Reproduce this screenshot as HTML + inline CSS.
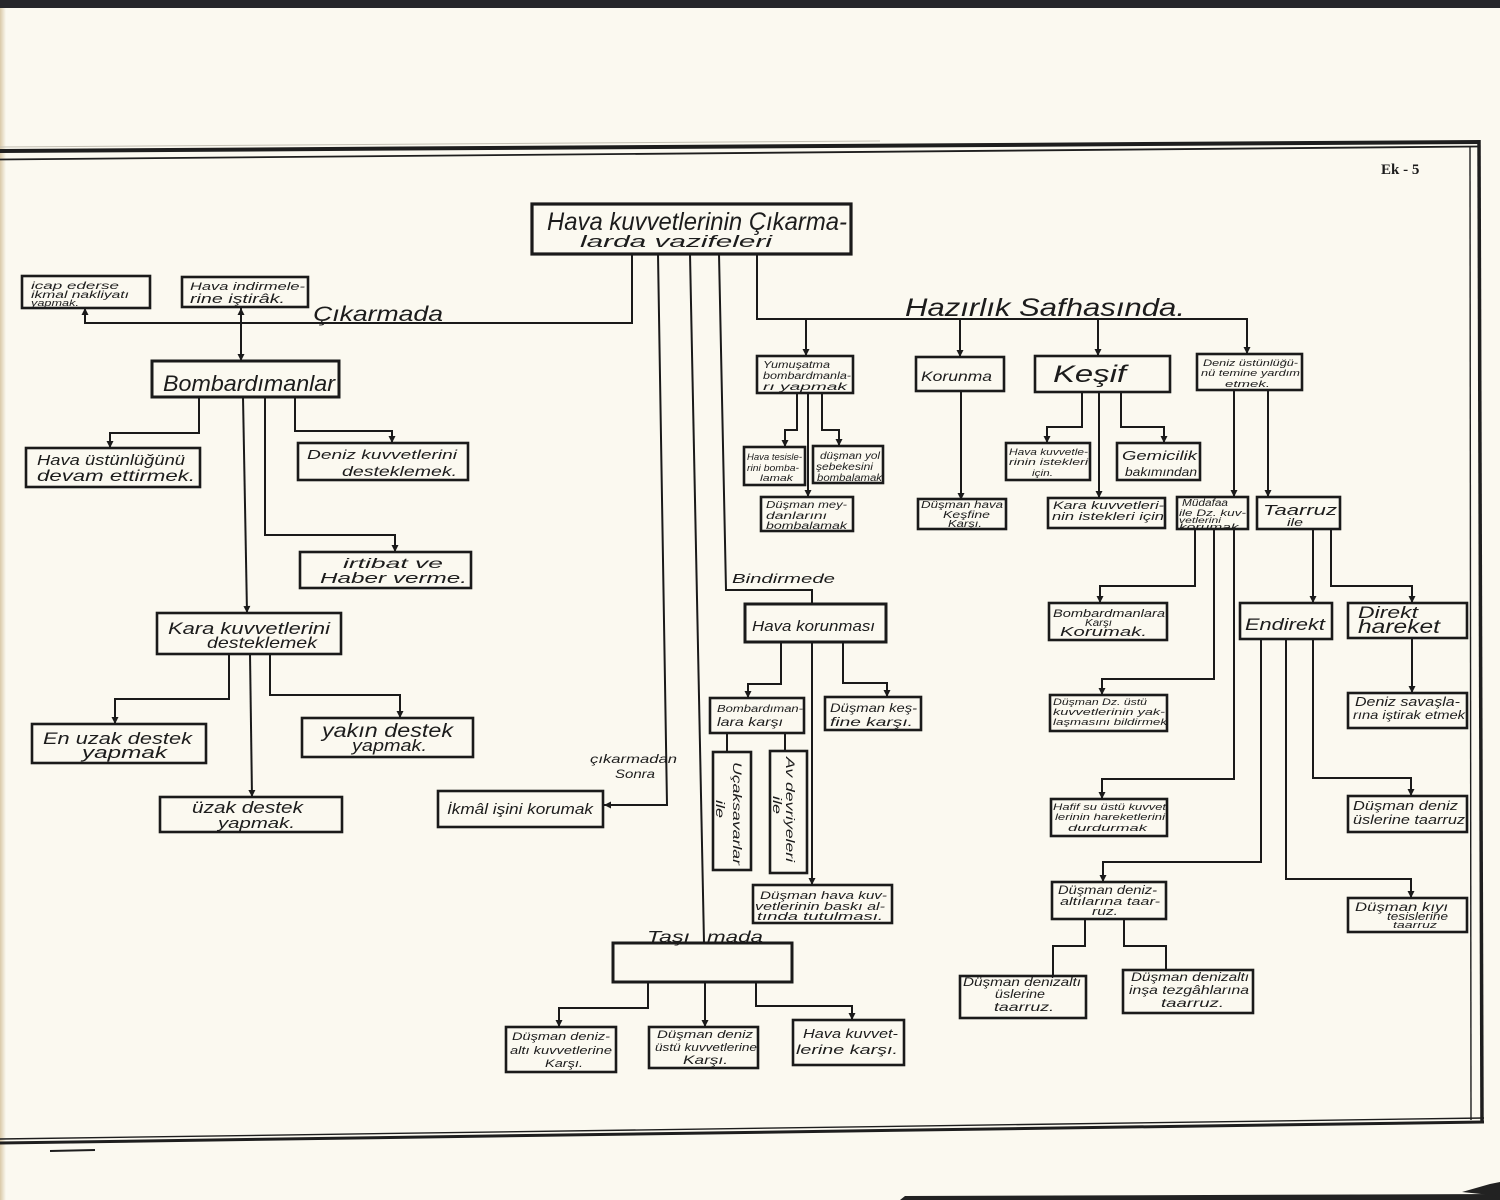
<!DOCTYPE html>
<html><head><meta charset="utf-8">
<style>
html,body{margin:0;padding:0;background:#fbf9f0;}
svg{display:block;}
text{font-family:"Liberation Sans","DejaVu Sans",sans-serif;font-style:italic;fill:#1c1c1c;}
.ek{font-family:"Liberation Serif",serif;font-style:normal;font-weight:bold;}
</style></head>
<body>
<svg width="1500" height="1200" viewBox="0 0 1500 1200" xmlns="http://www.w3.org/2000/svg">
<defs>
<marker id="a" viewBox="0 0 10 10" refX="10" refY="5" markerWidth="8" markerHeight="7" orient="auto" markerUnits="userSpaceOnUse"><path d="M0 0 L10 5 L0 10 z" fill="#1a1a1a"/></marker>
<marker id="s" viewBox="0 0 10 10" refX="10" refY="5" markerWidth="8" markerHeight="7" orient="auto-start-reverse" markerUnits="userSpaceOnUse"><path d="M0 0 L10 5 L0 10 z" fill="#1a1a1a"/></marker>
<linearGradient id="lg" x1="0" x2="1" y1="0" y2="0"><stop offset="0" stop-color="#d9c9a8"/><stop offset="1" stop-color="#fbf9f0"/></linearGradient>
</defs>
<rect width="1500" height="1200" fill="#fbf9f0"/>
<rect x="0" y="0" width="6" height="1200" fill="url(#lg)"/>
<!-- top dark band -->
<rect x="0" y="0" width="1500" height="8" fill="#26262a"/>
<!-- bottom dark band -->
<path d="M900 1200 L905 1196 L1500 1194 L1500 1200 Z" fill="#222"/>
<path d="M1462 1192 L1490 1184 L1500 1182 L1500 1196 Z" fill="#222"/>
<!-- borders -->
<g stroke="#1e1e1e" fill="none">
<line x1="0" y1="147" x2="880" y2="141" stroke="#c4c0b4" stroke-width="1"/>
<line x1="0" y1="151" x2="1480" y2="142" stroke-width="4"/>
<line x1="0" y1="159.5" x2="1478" y2="146.5" stroke-width="1.8"/>
<line x1="1479" y1="140" x2="1482" y2="1122" stroke-width="3.5"/>
<line x1="1470" y1="146" x2="1471" y2="1120" stroke-width="1.4"/>
<line x1="0" y1="1143" x2="1484" y2="1122" stroke-width="3"/>
<line x1="0" y1="1139" x2="1484" y2="1118" stroke-width="1.4"/>
<line x1="50" y1="1151" x2="95" y2="1150" stroke-width="2"/>
</g>
<text class="ek" x="1381" y="174" font-size="15">Ek - 5</text>

<!-- connectors -->
<g fill="none" stroke="#1a1a1a" stroke-width="2">
<path d="M632 254 V323 H85 V308" marker-end="url(#a)"/>
<path d="M241 308 V361" marker-start="url(#s)" marker-end="url(#s)"/>
<path d="M757 254 V319 H1247 V354" marker-end="url(#a)"/>
<path d="M806 319 V356" marker-end="url(#a)"/>
<path d="M960 319 V357" marker-end="url(#a)"/>
<path d="M1098 319 V356" marker-end="url(#a)"/>
<path d="M658 254 L667 805 H604" marker-end="url(#a)"/>
<path d="M690 254 L704 943"/>
<path d="M719 254 L726 590 H812 V604"/>
<!-- left -->
<path d="M199 397 V433 H110 V448" marker-end="url(#a)"/>
<path d="M243 397 L247 613" marker-end="url(#a)"/>
<path d="M265 397 V535 H395 V552" marker-end="url(#a)"/>
<path d="M295 397 V431 H392 V443" marker-end="url(#a)"/>
<path d="M229 654 V699 H115 V724" marker-end="url(#a)"/>
<path d="M250 654 L252 797" marker-end="url(#a)"/>
<path d="M270 654 V695 H400 V718" marker-end="url(#a)"/>
<!-- middle -->
<path d="M797 393 V430 H785 V447" marker-end="url(#a)"/>
<path d="M808 393 V497" marker-end="url(#a)"/>
<path d="M822 393 V430 H839 V446" marker-end="url(#a)"/>
<path d="M781 642 V684 H748 V698" marker-end="url(#a)"/>
<path d="M812 642 V885" marker-end="url(#a)"/>
<path d="M843 642 V683 H887 V697" marker-end="url(#a)"/>
<path d="M727 733 V752"/>
<path d="M785 733 V751"/>
<path d="M648 982 V1008 H559 V1027" marker-end="url(#a)"/>
<path d="M705 982 V1027" marker-end="url(#a)"/>
<path d="M756 982 V1006 H852 V1020" marker-end="url(#a)"/>
<!-- right -->
<path d="M961 391 V500" marker-end="url(#a)"/>
<path d="M1082 392 V427 H1047 V443" marker-end="url(#a)"/>
<path d="M1099 392 V498" marker-end="url(#a)"/>
<path d="M1121 392 V427 H1164 V443" marker-end="url(#a)"/>
<path d="M1234 390 V497" marker-end="url(#a)"/>
<path d="M1268 390 V497" marker-end="url(#a)"/>
<path d="M1195 529 V586 H1100 V603" marker-end="url(#a)"/>
<path d="M1214 529 V679 H1102 V695" marker-end="url(#a)"/>
<path d="M1234 529 V779 H1102 V799" marker-end="url(#a)"/>
<path d="M1313 529 V603" marker-end="url(#a)"/>
<path d="M1331 529 V586 H1412 V603" marker-end="url(#a)"/>
<path d="M1412 638 V693" marker-end="url(#a)"/>
<path d="M1261 639 V862 H1103 V882" marker-end="url(#a)"/>
<path d="M1286 639 V879 H1411 V898" marker-end="url(#a)"/>
<path d="M1313 639 V778 H1411 V796" marker-end="url(#a)"/>
<path d="M1085 919 V946 H1053 V975"/>
<path d="M1124 919 V946 H1166 V970"/>
</g>

<!-- boxes -->
<g fill="#fbf9f0" stroke="#1a1a1a" stroke-width="2.6">
<rect x="532" y="204" width="319" height="50" stroke-width="3.2"/>
<rect x="22" y="276" width="128" height="32"/>
<rect x="182" y="277" width="126" height="30"/>
<rect x="152" y="361" width="187" height="36" stroke-width="3"/>
<rect x="26" y="448" width="174" height="39"/>
<rect x="298" y="443" width="170" height="37"/>
<rect x="300" y="552" width="171" height="36"/>
<rect x="157" y="613" width="184" height="41"/>
<rect x="32" y="724" width="174" height="39"/>
<rect x="302" y="718" width="171" height="39"/>
<rect x="160" y="797" width="182" height="35"/>
<rect x="438" y="791" width="165" height="36"/>
<rect x="757" y="356" width="96" height="37"/>
<rect x="744" y="447" width="61" height="38"/>
<rect x="813" y="446" width="70" height="37"/>
<rect x="761" y="497" width="92" height="34"/>
<rect x="745" y="604" width="141" height="38" stroke-width="3"/>
<rect x="710" y="698" width="94" height="35"/>
<rect x="825" y="697" width="96" height="33"/>
<rect x="713" y="752" width="38" height="118"/>
<rect x="770" y="751" width="37" height="122"/>
<rect x="753" y="885" width="139" height="38"/>
<rect x="613" y="943" width="179" height="39" stroke-width="3"/>
<rect x="506" y="1027" width="110" height="45"/>
<rect x="649" y="1027" width="109" height="41"/>
<rect x="793" y="1020" width="111" height="45"/>
<rect x="916" y="357" width="88" height="34"/>
<rect x="918" y="499" width="88" height="30"/>
<rect x="1035" y="356" width="135" height="36"/>
<rect x="1006" y="443" width="84" height="37"/>
<rect x="1117" y="443" width="83" height="37"/>
<rect x="1048" y="498" width="117" height="30"/>
<rect x="1197" y="354" width="105" height="36"/>
<rect x="1177" y="497" width="71" height="32"/>
<rect x="1257" y="497" width="83" height="32"/>
<rect x="1049" y="603" width="118" height="37"/>
<rect x="1050" y="695" width="117" height="36"/>
<rect x="1051" y="799" width="116" height="37"/>
<rect x="1240" y="603" width="92" height="36"/>
<rect x="1348" y="603" width="119" height="35"/>
<rect x="1348" y="693" width="119" height="35"/>
<rect x="1348" y="796" width="119" height="36"/>
<rect x="1348" y="898" width="119" height="34"/>
<rect x="1052" y="882" width="114" height="37"/>
<rect x="960" y="976" width="126" height="42"/>
<rect x="1123" y="970" width="130" height="43"/>
</g>

<!-- labels -->
<text x="547" y="230" font-size="25" textLength="300" lengthAdjust="spacingAndGlyphs">Hava kuvvetlerinin Çıkarma-</text>
<text x="580" y="247" font-size="17" textLength="192" lengthAdjust="spacingAndGlyphs">larda  vazifeleri</text>
<text x="313" y="321" font-size="21" textLength="130" lengthAdjust="spacingAndGlyphs">Çıkarmada</text>
<text x="905" y="316" font-size="25" textLength="280" lengthAdjust="spacingAndGlyphs">Hazırlık  Safhasında.</text>

<text x="31" y="289" font-size="10" textLength="88" lengthAdjust="spacingAndGlyphs">icap ederse</text>
<text x="31" y="298" font-size="10" textLength="98" lengthAdjust="spacingAndGlyphs">ikmal nakliyatı</text>
<text x="31" y="306" font-size="9" textLength="48" lengthAdjust="spacingAndGlyphs">yapmak.</text>
<text x="190" y="290" font-size="11" textLength="115" lengthAdjust="spacingAndGlyphs">Hava indirmele-</text>
<text x="190" y="303" font-size="13" textLength="95" lengthAdjust="spacingAndGlyphs">rine iştirâk.</text>

<text x="163" y="391" font-size="22" textLength="172" lengthAdjust="spacingAndGlyphs">Bombardımanlar</text>
<text x="37" y="465" font-size="15" textLength="148" lengthAdjust="spacingAndGlyphs">Hava  üstünlüğünü</text>
<text x="37" y="481" font-size="16" textLength="158" lengthAdjust="spacingAndGlyphs">devam  ettirmek.</text>
<text x="307" y="459" font-size="13" textLength="150" lengthAdjust="spacingAndGlyphs">Deniz  kuvvetlerini</text>
<text x="342" y="476" font-size="14" textLength="115" lengthAdjust="spacingAndGlyphs">desteklemek.</text>
<text x="343" y="568" font-size="14" textLength="100" lengthAdjust="spacingAndGlyphs">irtibat  ve</text>
<text x="320" y="583" font-size="15" textLength="147" lengthAdjust="spacingAndGlyphs">Haber  verme.</text>
<text x="168" y="634" font-size="17" textLength="162" lengthAdjust="spacingAndGlyphs">Kara kuvvetlerini</text>
<text x="207" y="648" font-size="16" textLength="110" lengthAdjust="spacingAndGlyphs">desteklemek</text>
<text x="43" y="744" font-size="17" textLength="149" lengthAdjust="spacingAndGlyphs">En uzak destek</text>
<text x="82" y="758" font-size="17" textLength="85" lengthAdjust="spacingAndGlyphs">yapmak</text>
<text x="322" y="737" font-size="19" textLength="131" lengthAdjust="spacingAndGlyphs">yakın  destek</text>
<text x="352" y="751" font-size="17" textLength="75" lengthAdjust="spacingAndGlyphs">yapmak.</text>
<text x="192" y="813" font-size="17" textLength="111" lengthAdjust="spacingAndGlyphs">üzak destek</text>
<text x="218" y="828" font-size="15" textLength="77" lengthAdjust="spacingAndGlyphs">yapmak.</text>
<text x="447" y="814" font-size="15" textLength="146" lengthAdjust="spacingAndGlyphs">İkmâl işini korumak</text>
<text x="590" y="763" font-size="12" textLength="87" lengthAdjust="spacingAndGlyphs">çıkarmadan</text>
<text x="615" y="778" font-size="12" textLength="40" lengthAdjust="spacingAndGlyphs">Sonra</text>

<text x="763" y="368" font-size="10" textLength="67" lengthAdjust="spacingAndGlyphs">Yumuşatma</text>
<text x="763" y="379" font-size="10" textLength="88" lengthAdjust="spacingAndGlyphs">bombardmanla-</text>
<text x="763" y="390" font-size="10" textLength="84" lengthAdjust="spacingAndGlyphs">rı   yapmak</text>
<text x="747" y="460" font-size="9" textLength="55" lengthAdjust="spacingAndGlyphs">Hava tesisle-</text>
<text x="747" y="471" font-size="9" textLength="52" lengthAdjust="spacingAndGlyphs">rini bomba-</text>
<text x="760" y="481" font-size="9" textLength="33" lengthAdjust="spacingAndGlyphs">lamak</text>
<text x="820" y="459" font-size="10" textLength="60" lengthAdjust="spacingAndGlyphs">düşman yol</text>
<text x="816" y="470" font-size="10" textLength="57" lengthAdjust="spacingAndGlyphs">şebekesini</text>
<text x="817" y="481" font-size="10" textLength="65" lengthAdjust="spacingAndGlyphs">bombalamak</text>
<text x="766" y="508" font-size="10" textLength="81" lengthAdjust="spacingAndGlyphs">Düşman  mey-</text>
<text x="766" y="519" font-size="10" textLength="61" lengthAdjust="spacingAndGlyphs">danlarını</text>
<text x="766" y="529" font-size="10" textLength="81" lengthAdjust="spacingAndGlyphs">bombalamak</text>

<text x="732" y="583" font-size="13" textLength="103" lengthAdjust="spacingAndGlyphs">Bindirmede</text>
<text x="752" y="631" font-size="15" textLength="123" lengthAdjust="spacingAndGlyphs">Hava korunması</text>
<text x="717" y="712" font-size="10" textLength="86" lengthAdjust="spacingAndGlyphs">Bombardıman-</text>
<text x="717" y="726" font-size="12" textLength="66" lengthAdjust="spacingAndGlyphs">lara karşı</text>
<text x="830" y="712" font-size="12" textLength="87" lengthAdjust="spacingAndGlyphs">Düşman keş-</text>
<text x="830" y="726" font-size="12" textLength="83" lengthAdjust="spacingAndGlyphs">fine karşı.</text>
<text transform="translate(733,762) rotate(90)" font-size="12" textLength="103" lengthAdjust="spacingAndGlyphs">Uçaksavarlar</text>
<text transform="translate(716,800) rotate(90)" font-size="12" textLength="18" lengthAdjust="spacingAndGlyphs">ile</text>
<text transform="translate(786,757) rotate(90)" font-size="12" textLength="105" lengthAdjust="spacingAndGlyphs">Av devriyeleri</text>
<text transform="translate(773,796) rotate(90)" font-size="12" textLength="18" lengthAdjust="spacingAndGlyphs">ile</text>
<text x="760" y="899" font-size="11" textLength="127" lengthAdjust="spacingAndGlyphs">Düşman  hava  kuv-</text>
<text x="755" y="910" font-size="11" textLength="130" lengthAdjust="spacingAndGlyphs">vetlerinin baskı al-</text>
<text x="757" y="920" font-size="11" textLength="126" lengthAdjust="spacingAndGlyphs">tında  tutulması.</text>

<text x="647" y="942" font-size="16" textLength="43" lengthAdjust="spacingAndGlyphs">Taşı</text>
<text x="707" y="942" font-size="16" textLength="56" lengthAdjust="spacingAndGlyphs">mada</text>
<text x="512" y="1040" font-size="11" textLength="98" lengthAdjust="spacingAndGlyphs">Düşman  deniz-</text>
<text x="510" y="1054" font-size="11" textLength="102" lengthAdjust="spacingAndGlyphs">altı kuvvetlerine</text>
<text x="545" y="1067" font-size="11" textLength="38" lengthAdjust="spacingAndGlyphs">Karşı.</text>
<text x="657" y="1038" font-size="11" textLength="96" lengthAdjust="spacingAndGlyphs">Düşman  deniz</text>
<text x="655" y="1051" font-size="11" textLength="102" lengthAdjust="spacingAndGlyphs">üstü kuvvetlerine</text>
<text x="683" y="1064" font-size="12" textLength="45" lengthAdjust="spacingAndGlyphs">Karşı.</text>
<text x="803" y="1038" font-size="13" textLength="95" lengthAdjust="spacingAndGlyphs">Hava  kuvvet-</text>
<text x="796" y="1054" font-size="13" textLength="102" lengthAdjust="spacingAndGlyphs">lerine karşı.</text>

<text x="921" y="381" font-size="14" textLength="71" lengthAdjust="spacingAndGlyphs">Korunma</text>
<text x="921" y="508" font-size="10" textLength="82" lengthAdjust="spacingAndGlyphs">Düşman hava</text>
<text x="943" y="518" font-size="10" textLength="47" lengthAdjust="spacingAndGlyphs">Keşfine</text>
<text x="948" y="527" font-size="10" textLength="34" lengthAdjust="spacingAndGlyphs">Karşı.</text>
<text x="1053" y="382" font-size="24" textLength="73" lengthAdjust="spacingAndGlyphs">Keşif</text>
<text x="1009" y="455" font-size="9" textLength="79" lengthAdjust="spacingAndGlyphs">Hava kuvvetle-</text>
<text x="1009" y="465" font-size="9" textLength="79" lengthAdjust="spacingAndGlyphs">rinin istekleri</text>
<text x="1032" y="476" font-size="9" textLength="21" lengthAdjust="spacingAndGlyphs">için.</text>
<text x="1122" y="460" font-size="13" textLength="75" lengthAdjust="spacingAndGlyphs">Gemicilik</text>
<text x="1125" y="476" font-size="12" textLength="72" lengthAdjust="spacingAndGlyphs">bakımından</text>
<text x="1053" y="509" font-size="11" textLength="111" lengthAdjust="spacingAndGlyphs">Kara kuvvetleri-</text>
<text x="1052" y="520" font-size="11" textLength="112" lengthAdjust="spacingAndGlyphs">nin istekleri için</text>
<text x="1203" y="366" font-size="9.5" textLength="95" lengthAdjust="spacingAndGlyphs">Deniz üstünlüğü-</text>
<text x="1201" y="376" font-size="9.5" textLength="99" lengthAdjust="spacingAndGlyphs">nü temine yardım</text>
<text x="1225" y="387" font-size="9.5" textLength="45" lengthAdjust="spacingAndGlyphs">etmek.</text>
<text x="1182" y="506" font-size="10" textLength="46" lengthAdjust="spacingAndGlyphs">Müdafaa</text>
<text x="1179" y="516" font-size="9" textLength="67" lengthAdjust="spacingAndGlyphs">ile Dz. kuv-</text>
<text x="1179" y="523" font-size="8" textLength="42" lengthAdjust="spacingAndGlyphs">vetlerini</text>
<text x="1179" y="530" font-size="9.5" textLength="64" lengthAdjust="spacingAndGlyphs">korumak.</text>
<text x="1263" y="515" font-size="15" textLength="74" lengthAdjust="spacingAndGlyphs">Taarruz</text>
<text x="1287" y="526" font-size="11" textLength="16" lengthAdjust="spacingAndGlyphs">ile</text>

<text x="1053" y="617" font-size="11" textLength="112" lengthAdjust="spacingAndGlyphs">Bombardmanlara</text>
<text x="1085" y="626" font-size="10" textLength="27" lengthAdjust="spacingAndGlyphs">Karşı</text>
<text x="1060" y="636" font-size="13" textLength="87" lengthAdjust="spacingAndGlyphs">Korumak.</text>
<text x="1053" y="705" font-size="9.5" textLength="94" lengthAdjust="spacingAndGlyphs">Düşman Dz. üstü</text>
<text x="1053" y="715" font-size="9.5" textLength="112" lengthAdjust="spacingAndGlyphs">kuvvetlerinin yak-</text>
<text x="1053" y="725" font-size="9.5" textLength="114" lengthAdjust="spacingAndGlyphs">laşmasını bildirmek</text>
<text x="1053" y="810" font-size="9.5" textLength="113" lengthAdjust="spacingAndGlyphs">Hafif su üstü kuvvet</text>
<text x="1055" y="820" font-size="9.5" textLength="110" lengthAdjust="spacingAndGlyphs">lerinin hareketlerini</text>
<text x="1068" y="831" font-size="9.5" textLength="79" lengthAdjust="spacingAndGlyphs">durdurmak</text>
<text x="1245" y="630" font-size="17" textLength="80" lengthAdjust="spacingAndGlyphs">Endirekt</text>
<text x="1358" y="618" font-size="17" textLength="60" lengthAdjust="spacingAndGlyphs">Direkt</text>
<text x="1358" y="633" font-size="19" textLength="82" lengthAdjust="spacingAndGlyphs">hareket</text>
<text x="1355" y="706" font-size="13" textLength="105" lengthAdjust="spacingAndGlyphs">Deniz  savaşla-</text>
<text x="1353" y="719" font-size="12" textLength="112" lengthAdjust="spacingAndGlyphs">rına iştirak etmek</text>
<text x="1353" y="810" font-size="13" textLength="105" lengthAdjust="spacingAndGlyphs">Düşman  deniz</text>
<text x="1353" y="824" font-size="13" textLength="112" lengthAdjust="spacingAndGlyphs">üslerine taarruz</text>
<text x="1355" y="911" font-size="12" textLength="93" lengthAdjust="spacingAndGlyphs">Düşman  kıyı</text>
<text x="1387" y="920" font-size="11" textLength="61" lengthAdjust="spacingAndGlyphs">tesislerine</text>
<text x="1393" y="928" font-size="9" textLength="44" lengthAdjust="spacingAndGlyphs">taarruz</text>
<text x="1058" y="894" font-size="12" textLength="99" lengthAdjust="spacingAndGlyphs">Düşman  deniz-</text>
<text x="1060" y="905" font-size="11" textLength="100" lengthAdjust="spacingAndGlyphs">altılarına  taar-</text>
<text x="1092" y="915" font-size="11" textLength="26" lengthAdjust="spacingAndGlyphs">ruz.</text>
<text x="963" y="986" font-size="12" textLength="118" lengthAdjust="spacingAndGlyphs">Düşman denizaltı</text>
<text x="995" y="998" font-size="12" textLength="50" lengthAdjust="spacingAndGlyphs">üslerine</text>
<text x="994" y="1011" font-size="12" textLength="60" lengthAdjust="spacingAndGlyphs">taarruz.</text>
<text x="1131" y="981" font-size="12" textLength="118" lengthAdjust="spacingAndGlyphs">Düşman denizaltı</text>
<text x="1129" y="994" font-size="12" textLength="120" lengthAdjust="spacingAndGlyphs">inşa tezgâhlarına</text>
<text x="1161" y="1007" font-size="12" textLength="63" lengthAdjust="spacingAndGlyphs">taarruz.</text>
</svg>
</body></html>
